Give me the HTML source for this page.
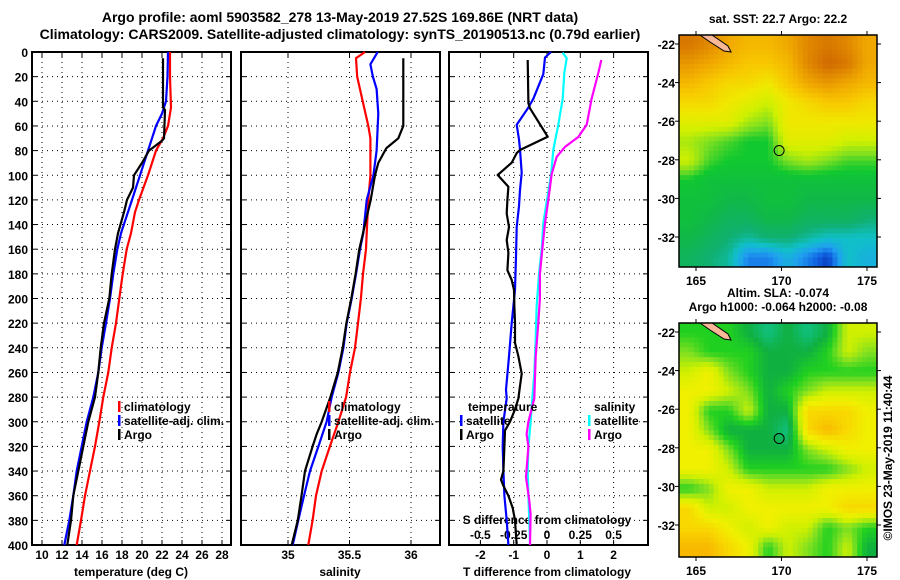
<!DOCTYPE html>
<html><head><meta charset="utf-8"><style>
html,body{margin:0;padding:0;background:#fff;}
svg{display:block;font-family:"Liberation Sans",Arial,sans-serif;font-weight:bold;}
</style></head><body>
<svg id="c" width="900" height="580" viewBox="0 0 900 580"></svg>
<script>
// ---- depth axis ----
const depthTicks=[0,20,40,60,80,100,120,140,160,180,200,220,240,260,280,300,320,340,360,380,400];
const tempTicks=[10,12,14,16,18,20,22,24,26,28];
const salTicks=[35,35.5,36];
const tdiffTicks=[-2,-1,0,1,2];
const sdiffTicks=[-0.5,-0.25,0,0.25,0.5];
// ---- temperature profiles ----
const tClimDepth=[0,20,45,60,70,80,100,120,130,147,160,180,200,220,240,260,280,300,320,340,360,380,400];
const tClimVal=[22.8,22.8,22.9,22.6,22.1,21.4,20.6,19.7,19.3,18.9,18.47,18.07,17.73,17.4,16.97,16.63,16.13,15.73,15.3,14.8,14.3,13.9,13.47];
const tSatDepth=[0,20,40,50,60,70,80,100,120,147,160,180,200,220,240,260,280,300,320,340,360,380,400];
const tSatVal=[22.6,22.55,22.4,22.0,21.4,21.0,20.6,19.8,19.0,17.9,17.53,17.13,16.8,16.4,15.97,15.63,15.13,14.47,13.97,13.47,13.13,12.73,12.23];
const tArgoDepth=[5,45,47,70,72,80,90,100,110,120,130,147,160,180,200,220,240,260,280,300,320,340,360,380,400];
const tArgoVal=[22.1,22.1,22.3,22.2,22.0,20.7,20.0,19.2,19.1,18.5,18.2,17.6,17.3,16.97,16.73,16.2,15.87,15.63,15.3,14.63,14.13,13.63,13.13,12.9,12.53];
// ---- salinity profiles ----
const sClimDepth=[0,5,20,40,60,70,100,120,147,160,180,200,220,240,260,280,300,320,340,360,380,400];
const sClimVal=[35.626,35.553,35.563,35.607,35.653,35.67,35.67,35.653,35.64,35.634,35.61,35.593,35.569,35.545,35.504,35.472,35.41,35.341,35.274,35.228,35.2,35.165];
const sSatDepth=[0,10,20,30,50,80,100,120,147,160,180,200,220,240,260,280,300,320,340,360,380,400];
const sSatVal=[35.729,35.67,35.69,35.72,35.734,35.72,35.694,35.64,35.612,35.585,35.553,35.518,35.477,35.45,35.41,35.355,35.314,35.247,35.179,35.13,35.084,35.038];
const sArgoDepth=[5,60,70,78,90,100,120,147,160,180,200,220,240,260,280,300,310,320,340,360,380,400];
const sArgoVal=[35.937,35.937,35.897,35.80,35.734,35.707,35.672,35.61,35.58,35.55,35.515,35.475,35.445,35.405,35.345,35.274,35.233,35.2,35.138,35.11,35.08,35.03];
// ---- differences ----
const dTArgoDepth=[6.5,41.6,45.7,68.7,79.5,82,89.8,99.8,109.3,120,131,142,152.5,163,177,185,193,207,220,236,247,261,271,281,290,300,307,320,340,347,352,360,370,380,400];
const dTArgoVal=[-0.58,-0.56,-0.51,0.02,-0.81,-0.91,-1.06,-1.48,-1.16,-1.19,-1.21,-1.14,-1.21,-1.16,-1.19,-1.06,-0.99,-0.98,-0.96,-0.96,-0.86,-0.76,-0.81,-0.86,-0.96,-1.11,-1.26,-1.28,-1.31,-1.38,-1.31,-1.16,-1.03,-0.96,-0.91];
const dTSatDepth=[0,4.5,18,38,45,59,71,79,98,112,125,142,166,193,220,247,274,281,300,320,340,360,380,400];
const dTSatVal=[0.12,-0.06,-0.11,-0.41,-0.56,-0.91,-0.84,-0.81,-0.76,-0.81,-0.84,-0.91,-0.93,-0.96,-1.06,-1.14,-1.23,-1.21,-1.31,-1.33,-1.31,-1.28,-1.21,-1.16];
const dSSatDepth=[0.5,5,17,38,59,79,100,120,139,160,180,207,234,261,281,300,320,340,360,380,400];
const dSSatVal=[0.118,0.148,0.13,0.118,0.085,0.048,0.03,0,-0.028,-0.04,-0.06,-0.078,-0.085,-0.095,-0.11,-0.123,-0.14,-0.145,-0.14,-0.133,-0.128];
const dSArgoDepth=[6.5,17,38,59,69,77,85,99,120,139,160,180,200,220,247,281,300,310,320,345,364,375,400];
const dSArgoVal=[0.408,0.385,0.335,0.298,0.235,0.135,0.073,0.035,0.01,-0.015,-0.035,-0.053,-0.053,-0.065,-0.085,-0.095,-0.14,-0.153,-0.14,-0.158,-0.133,-0.123,-0.128];
// ---- maps ----
const mapLonTicks=[165,170,175];
const mapLatTicks=[-22,-24,-26,-28,-30,-32];
const sstGrid=[
[23.3,23.2,23.0,22.9,22.9,23.0,23.2,23.3,23.2,23.0],
[23.1,23.0,22.9,22.8,22.8,22.9,23.2,23.4,23.3,23.0],
[22.9,22.8,22.7,22.7,22.6,22.8,23.0,23.1,23.0,22.9],
[22.7,22.7,22.6,22.5,22.4,22.6,22.7,22.8,22.8,22.7],
[22.5,22.5,22.5,22.3,22.2,22.6,22.6,22.6,22.6,22.6],
[22.3,22.2,22.1,22.0,22.0,22.5,22.5,22.5,22.4,22.4],
[22.4,22.1,22.0,22.0,22.0,22.2,22.3,22.2,22.1,22.1],
[22.0,21.9,21.9,21.9,21.9,21.9,21.9,21.9,21.9,21.9],
[21.9,21.9,21.8,21.8,21.9,21.9,21.8,21.8,21.8,21.8],
[21.9,21.8,21.7,21.7,21.8,21.8,21.7,21.7,21.7,21.6],
[21.8,21.7,21.6,21.5,21.6,21.6,21.5,21.4,21.4,21.4],
[21.7,21.6,21.5,21.1,21.1,21.3,21.1,20.9,21.4,21.3]];
const slaGrid=[
[2,2,2,1,0,1,0,1,4,4],
[3,2,2,2,1,1,1,2,4,3],
[4,5,3,2,1,1,2,2,2,2],
[5,5,4,3,1,2,3,4,4,4],
[5,2,2,4,1,1,6,6,6,5],
[5,3,1,1,1,0,6,7,6,5],
[5,5,3,1,1,1,3,4,5,5],
[5,5,4,2,2,2,2,2,3,4],
[2,3,5,5,4,4,4,5,5,5],
[6,4,4,5,5,5,5,5,6,6],
[6,6,5,4,5,4,4,2,3,2],
[7,7,6,5,2,4,3,2,4,1]];

const NS='http://www.w3.org/2000/svg';
const svg=document.getElementById('c');
function el(tag,attrs,parent){const e=document.createElementNS(NS,tag);for(const k in attrs)e.setAttribute(k,attrs[k]);(parent||svg).appendChild(e);return e;}
function txt(x,y,s,anchor,size,parent){const t=el('text',{x:x,y:y,'text-anchor':anchor||'start','font-size':size||12,fill:'#000'},parent);t.textContent=s;return t;}

const yD=d=>52+d*1.2325;
const xT=v=>42+(v-10)*10;
const xS=v=>288+(v-35)*123;
const xDT=v=>547+v*33.3;
const xDS=v=>547+v*133.2;

const panels=[{x:32,w:199,name:'temperature-panel'},{x:241,w:199,name:'salinity-panel'},{x:449,w:199,name:'difference-panel'}];
function gridPanel(p,xticks,xf){
  const g=el('g',{});
  
  
  depthTicks.forEach(d=>{if(d>0&&d<400){el('line',{x1:p.x,x2:p.x+p.w,y1:yD(d),y2:yD(d),stroke:'#000','stroke-width':1,'stroke-dasharray':'1,4'},g);
    el('line',{x1:p.x,x2:p.x+5,y1:yD(d),y2:yD(d),stroke:'#000'},g);el('line',{x1:p.x+p.w-5,x2:p.x+p.w,y1:yD(d),y2:yD(d),stroke:'#000'},g);}});
  xticks.forEach(v=>{const x=xf(v);el('line',{x1:x,x2:x,y1:52,y2:545,stroke:'#000','stroke-width':1,'stroke-dasharray':'1,4'},g);
    el('line',{x1:x,x2:x,y1:540,y2:545,stroke:'#000'},g);el('line',{x1:x,x2:x,y1:52,y2:57,stroke:'#000'},g);});
  el('rect',{x:p.x,y:52,width:p.w,height:493,fill:'none',stroke:'#000','stroke-width':2},g);
  return g;
}
function line(depths,vals,xf,color,w,name){
  const pts=depths.map((d,i)=>xf(vals[i]).toFixed(1)+','+yD(d).toFixed(1)).join(' ');
  const pl=el('polyline',{points:pts,fill:'none',stroke:color,'stroke-width':w,'stroke-linejoin':'round'});
  
  
}
// titles
const t1=txt(340,22,'Argo profile: aoml 5903582_278 13-May-2019 27.52S 169.86E (NRT data)','middle',14);


const t2=txt(340,39,'Climatology: CARS2009. Satellite-adjusted climatology: synTS_20190513.nc (0.79d earlier)','middle',14);



gridPanel(panels[0],tempTicks,xT);
gridPanel(panels[1],salTicks,xS);
gridPanel(panels[2],tdiffTicks,xDT);

depthTicks.forEach(d=>{const t=txt(28,yD(d)+5,String(d),'end',12);});
tempTicks.forEach(v=>{const t=txt(xT(v),559,String(v),'middle',12);});
salTicks.forEach(v=>{const t=txt(xS(v),559,String(v),'middle',12);});
tdiffTicks.forEach(v=>{const t=txt(xDT(v),559,String(v),'middle',12);});
sdiffTicks.forEach(v=>{const t=txt(xDS(v),539,String(v),'middle',12);});
let a=txt(131,576,'temperature (deg C)','middle',12);
a=txt(340,576,'salinity','middle',12);
a=txt(547,576,'T difference from climatology','middle',12);
a=txt(547,524,'S difference from climatology','middle',12);

line(tClimDepth,tClimVal,xT,'#f00',2.2,'temperature-climatology-line');
line(tSatDepth,tSatVal,xT,'#00f',2.2,'temperature-satellite-line');
line(tArgoDepth,tArgoVal,xT,'#000',2.2,'temperature-argo-line');
line(sClimDepth,sClimVal,xS,'#f00',2.2,'salinity-climatology-line');
line(sSatDepth,sSatVal,xS,'#00f',2.2,'salinity-satellite-line');
line(sArgoDepth,sArgoVal,xS,'#000',2.2,'salinity-argo-line');
line(dSSatDepth,dSSatVal,xDS,'#0ff',2.2,'sdiff-satellite-line');
line(dSArgoDepth,dSArgoVal,xDS,'#f0f',2.2,'sdiff-argo-line');
line(dTSatDepth,dTSatVal,xDT,'#00f',2.2,'tdiff-satellite-line');
line(dTArgoDepth,dTArgoVal,xDT,'#000',2.2,'tdiff-argo-line');

function legend(x,y,color,label,name){
  const g=el('g',{});
  
  
  el('rect',{x:x,y:y-10,width:2.5,height:11,fill:color},g);
  txt(x+6,y,label,'start',12,g);
}
legend(118,411,'#f00','climatology','legend-climatology');
legend(118,425,'#00f','satellite-adj. clim.','legend-satellite-adj');
legend(118,439,'#000','Argo','legend-argo');
legend(328,411,'#f00','climatology','legend-climatology-sal');
legend(328,425,'#00f','satellite-adj. clim.','legend-satellite-adj-sal');
legend(328,439,'#000','Argo','legend-argo-sal');
a=txt(468,411,'temperature','start',12);
legend(460,425,'#00f','satellite','legend-t-satellite');
legend(460,439,'#000','Argo','legend-t-argo');
a=txt(594,411,'salinity','start',12);
legend(588,425,'#0ff','satellite','legend-s-satellite');
legend(588,439,'#f0f','Argo','legend-s-argo');

// ---- maps ----
function hex(c){return [parseInt(c.substr(1,2),16),parseInt(c.substr(3,2),16),parseInt(c.substr(5,2),16)];}
function rampColor(stops,v){
  if(v<=stops[0][0])return stops[0][1];
  for(let i=1;i<stops.length;i++){if(v<=stops[i][0]){const f=(v-stops[i-1][0])/(stops[i][0]-stops[i-1][0]);const a=hex(stops[i-1][1]),b=hex(stops[i][1]);
    return 'rgb('+a.map((x,k)=>Math.round(x+(b[k]-x)*f)).join(',')+')';}}
  return stops[stops.length-1][1];
}
const sstStops=[[20.8,'#0020a0'],[21.0,'#1060e0'],[21.2,'#20a0f0'],[21.4,'#10c0c8'],[21.6,'#10b070'],[21.8,'#10b848'],[22.0,'#10c830'],[22.2,'#80e020'],[22.4,'#d0f000'],[22.6,'#f0e800'],[22.8,'#f8c800'],[23.0,'#f0a800'],[23.2,'#e08800'],[23.4,'#d06800']];
const slaStops=[[0,'#10c080'],[1,'#10b040'],[2,'#20d020'],[3,'#80e020'],[4,'#d0f000'],[5,'#f0f000'],[6,'#f8d800'],[7,'#f8b800']];
function sample(grid,r,c){
  const R=grid.length,C=grid[0].length;
  r=Math.max(0,Math.min(R-1,r));c=Math.max(0,Math.min(C-1,c));
  const r0=Math.floor(r),c0=Math.floor(c),r1=Math.min(R-1,r0+1),c1=Math.min(C-1,c0+1),fr=r-r0,fc=c-c0;
  return grid[r0][c0]*(1-fr)*(1-fc)+grid[r0][c1]*(1-fr)*fc+grid[r1][c0]*fr*(1-fc)+grid[r1][c1]*fr*fc;
}
function drawMap(top,bottom,grid,stops,name,title1,title2,res){
  const L=679,R=877,g=el('g',{});
  
  
  const rows=grid.length,cols=grid[0].length;
  const nr=rows*res,nc=cols*res,ch=(bottom-top)/nr,cw=(R-L)/nc;
  for(let i=0;i<nr;i++)for(let j=0;j<nc;j++){
    const v=sample(grid,(i+0.5)/res-0.5,(j+0.5)/res-0.5);
    el('rect',{x:(L+j*cw).toFixed(2),y:(top+i*ch).toFixed(2),width:(cw+0.4).toFixed(2),height:(ch+0.4).toFixed(2),fill:rampColor(stops,v)},g);
  }
  const lonX=lon=>696+(lon-165)*17.1;
  const latY=lat=>top+9+(-22-lat)*19.3;
  el('path',{d:'M700,'+(top)+' L712,'+(top)+' L728,'+(top+11)+' L731,'+(top+17)+' L724,'+(top+16)+' L710,'+(top+7)+'Z',fill:'#f8b898',stroke:'#000','stroke-width':1},g);
  el('circle',{cx:lonX(169.86),cy:latY(-27.52),r:5,fill:'none',stroke:'#000','stroke-width':1},g);
  el('rect',{x:L,y:top,width:R-L,height:bottom-top,fill:'none',stroke:'#000','stroke-width':1.5},g);
  mapLonTicks.forEach(v=>{const x=lonX(v);el('line',{x1:x,x2:x,y1:bottom,y2:bottom+4,stroke:'#000'},g);el('line',{x1:x,x2:x,y1:top-4,y2:top,stroke:'#000'},g);txt(x,bottom+18,String(v),'middle',12,g);});
  mapLatTicks.forEach(v=>{const y=latY(v);el('line',{x1:L-4,x2:L,y1:y,y2:y,stroke:'#000'},g);el('line',{x1:R,x2:R+4,y1:y,y2:y,stroke:'#000'},g);txt(L-4,y+5,String(v),'end',12,g);});
  txt(778,top-12,title1,'middle',12,g);
  if(title2)txt(778,top-26,title2,'middle',12,g);
}
drawMap(35,267,sstGrid,sstStops,'sst-map','sat. SST: 22.7 Argo: 22.2',null,4);
drawMap(323,557,slaGrid,slaStops,'sla-map','Argo h1000: -0.064 h2000: -0.08','Altim. SLA: -0.074',4);
a=el('text',{x:0,y:0,'font-size':12,transform:'translate(892,458) rotate(-90)','text-anchor':'middle',fill:'#000'});
a.textContent='©IMOS 23-May-2019 11:40:44';


</script>
</body></html>
